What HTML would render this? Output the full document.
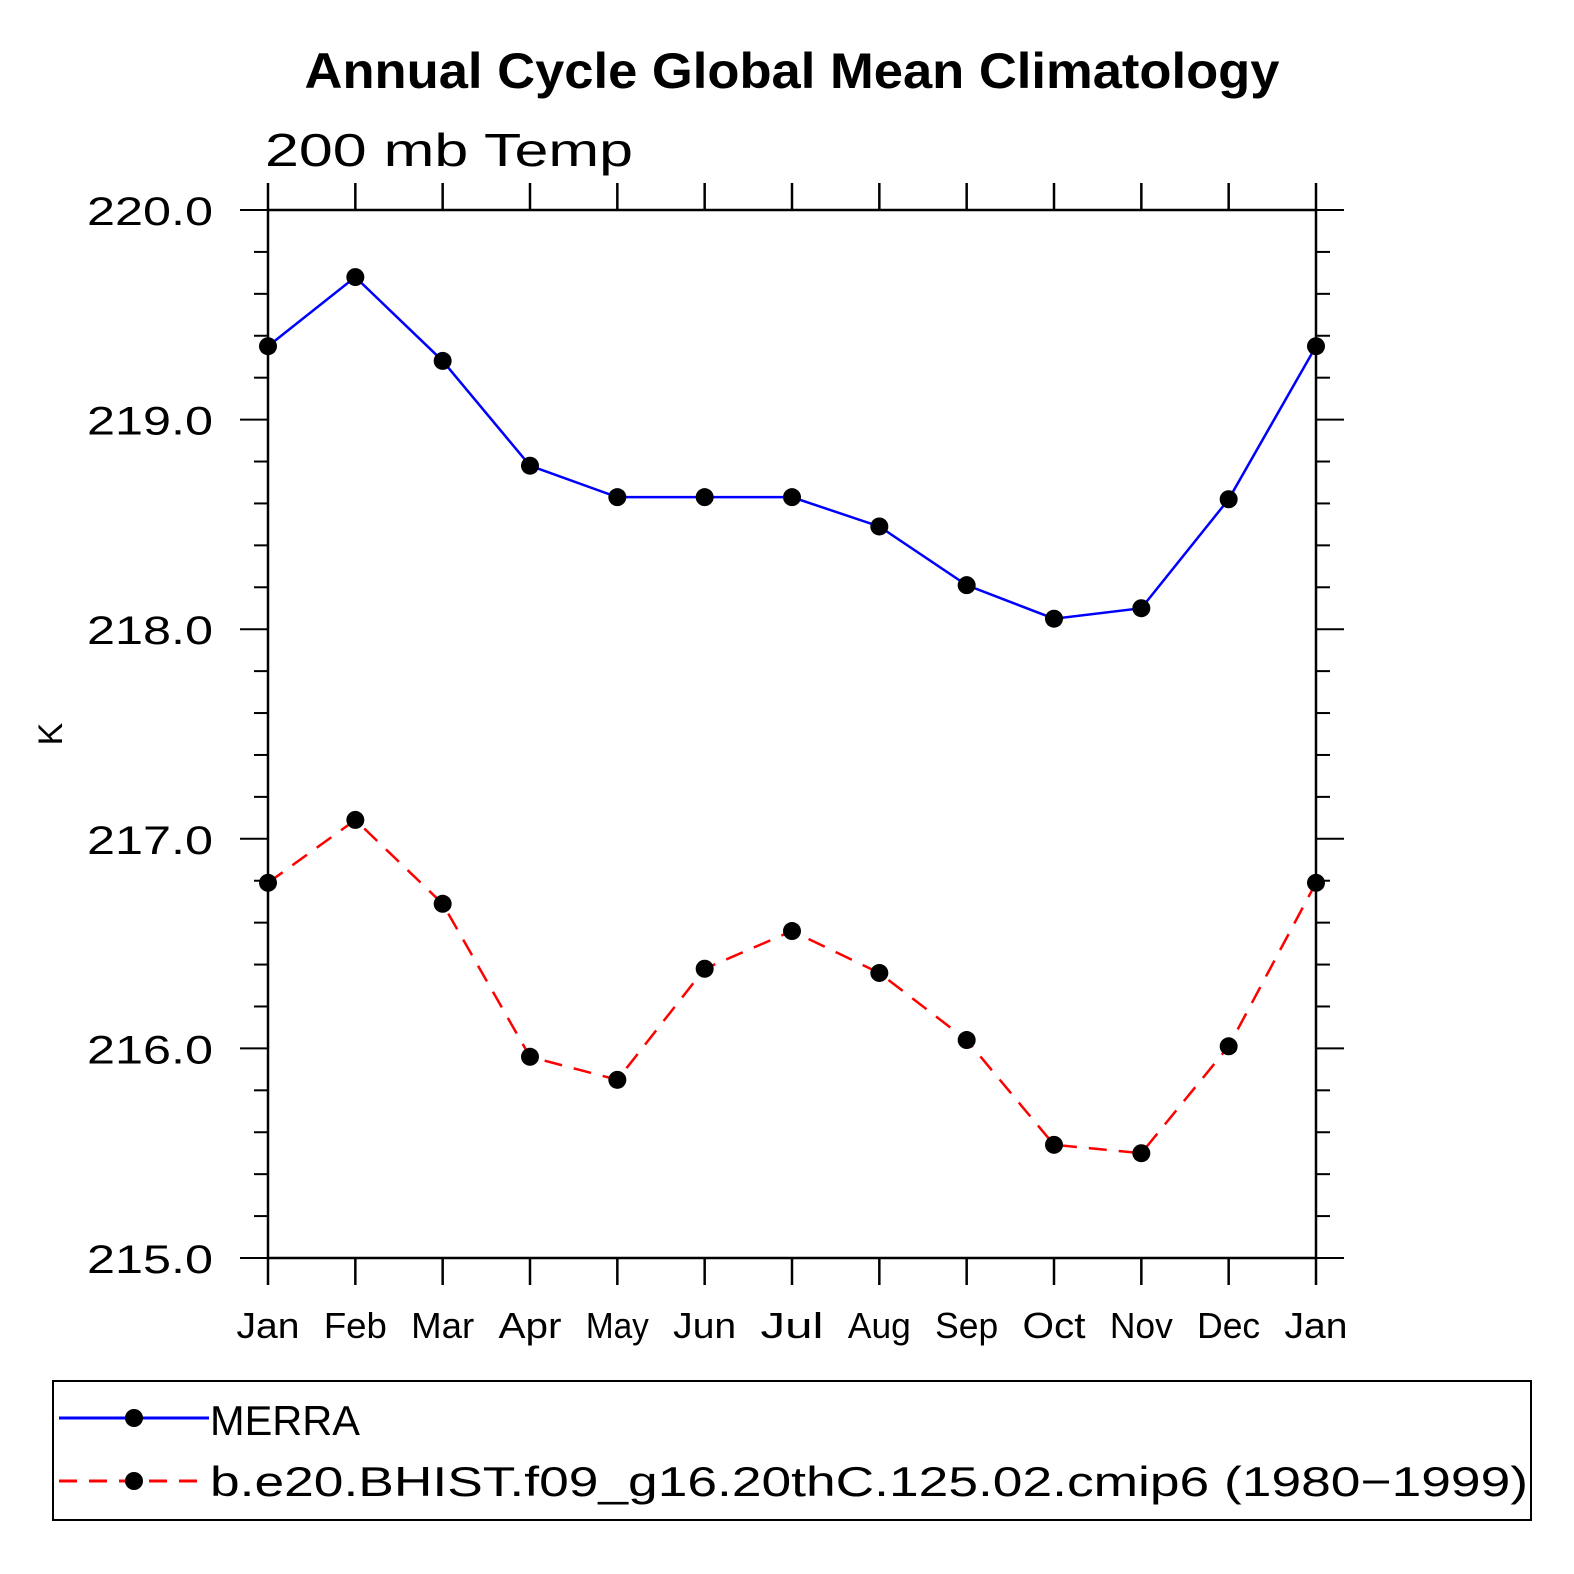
<!DOCTYPE html>
<html><head><meta charset="utf-8"><style>
body{margin:0;background:#fff;}
svg{display:block;font-family:"Liberation Sans",sans-serif;}
</style></head><body>
<svg id="chart" width="1574" height="1574" viewBox="0 0 1574 1574" xmlns="http://www.w3.org/2000/svg">
<text x="792" y="88" text-anchor="middle" font-size="50" font-weight="bold" textLength="975" lengthAdjust="spacingAndGlyphs">Annual Cycle Global Mean Climatology</text>
<text x="265" y="166" font-size="46" textLength="368" lengthAdjust="spacingAndGlyphs">200 mb Temp</text>
<text transform="translate(62,734) rotate(-90)" text-anchor="middle" font-size="34">K</text>
<g id="axes"></g>
<g id="series"></g>
<g>
<rect x="53" y="1381" width="1478" height="139" fill="none" stroke="#000" stroke-width="2"/>
<line x1="59" y1="1418" x2="209" y2="1418" stroke="#00f" stroke-width="3"/>
<circle cx="134" cy="1418" r="9"/>
<text x="210" y="1435" font-size="42" textLength="150" lengthAdjust="spacingAndGlyphs">MERRA</text>
<line x1="59" y1="1481" x2="209" y2="1481" stroke="#f00" stroke-width="3" stroke-dasharray="18,12"/>
<circle cx="134" cy="1481" r="9"/>
<text x="210" y="1496" font-size="42" textLength="1318" lengthAdjust="spacingAndGlyphs">b.e20.BHIST.f09_g16.20thC.125.02.cmip6 (1980−1999)</text>
</g>
</svg>
<script>
const months = ["Jan","Feb","Mar","Apr","May","Jun","Jul","Aug","Sep","Oct","Nov","Dec","Jan"];
const merra = [219.35,219.68,219.28,218.78,218.63,218.63,218.63,218.49,218.21,218.05,218.10,218.62,219.35];
const model = [216.79,217.09,216.69,215.96,215.85,216.38,216.56,216.36,216.04,215.54,215.50,216.01,216.79];
const yTicks = [215,216,217,218,219,220];
const yTickLabels = ["215.0","216.0","217.0","218.0","219.0","220.0"];

const NS="http://www.w3.org/2000/svg";
const X0=268,X1=1316,Y0=210,Y1=1258,YMIN=215,YMAX=220;
const xs=i=>X0+(X1-X0)*i/(months.length-1);
const ys=v=>Y1-(v-YMIN)/(YMAX-YMIN)*(Y1-Y0);
function mk(tag,attrs,parent){const e=document.createElementNS(NS,tag);for(const k in attrs)e.setAttribute(k,attrs[k]);parent.appendChild(e);return e;}
const ax=document.getElementById('axes');
const frame=mk('rect',{x:X0,y:Y0,width:X1-X0,height:Y1-Y0,fill:'none',stroke:'#000','stroke-width':2.5},ax);


months.forEach((m,i)=>{
  const x=xs(i);
  const t1=mk('line',{x1:x,y1:Y0,x2:x,y2:Y0-27,stroke:'#000','stroke-width':2.5},ax);
  
  
  const t2=mk('line',{x1:x,y1:Y1,x2:x,y2:Y1+27,stroke:'#000','stroke-width':2.5},ax);
  
  
  const l=mk('text',{x:x,y:1338,'text-anchor':'middle','font-size':36,textLength:(m.length*21),lengthAdjust:'spacingAndGlyphs'},ax);
  l.textContent=m;
  
  
});
for(let v=YMIN;v<=YMAX+1e-9;v+=0.2){
  const y=ys(v);const major=Math.abs(v-Math.round(v))<1e-6;const len=major?28:14;
  const a=mk('line',{x1:X0,y1:y,x2:X0-len,y2:y,stroke:'#000','stroke-width':2},ax);
  
  
  const b=mk('line',{x1:X1,y1:y,x2:X1+len,y2:y,stroke:'#000','stroke-width':2},ax);
  
  
}
yTicks.forEach((v,i)=>{
  const l=mk('text',{x:87,y:ys(v)+15,'font-size':40,textLength:126,lengthAdjust:'spacingAndGlyphs'},ax);
  l.textContent=yTickLabels[i];
  
  
});
const sg=document.getElementById('series');
function series(vals,color,dash,name){
  const p=mk('polyline',{points:vals.map((v,i)=>xs(i)+','+ys(v)).join(' '),fill:'none',stroke:color,'stroke-width':2.5},sg);
  if(dash)p.setAttribute('stroke-dasharray',dash);
  
  
  vals.forEach((v,i)=>{
    const c=mk('circle',{cx:xs(i),cy:ys(v),r:9,fill:'#000'},sg);
    
    
  });
}
series(merra,'#00f',null,'merra');
series(model,'#f00','18,12','model');
</script>
</body></html>
